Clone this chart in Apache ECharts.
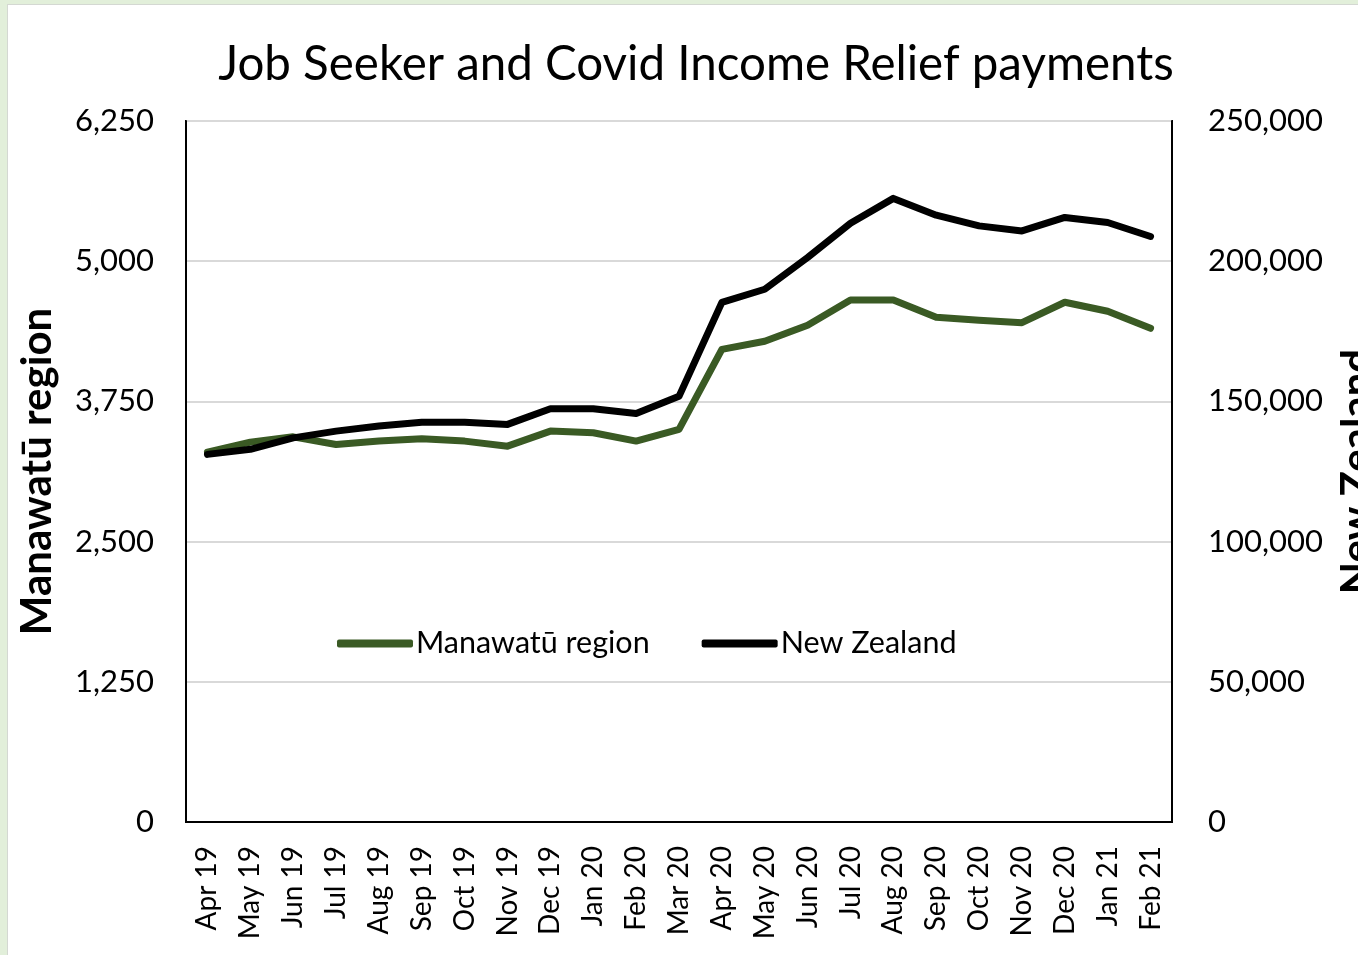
<!DOCTYPE html>
<html>
<head>
<meta charset="utf-8">
<script src="https://cdn.jsdelivr.net/npm/echarts@6/dist/echarts.min.js"></script>
<style>
  html, body { margin: 0; padding: 0; width: 1358px; height: 955px; overflow: hidden; background: #e2efda; }
  #frame { position: absolute; left: 7px; top: 4px; right: 0; bottom: 0; background: #ffffff; border-left: 1px solid #d4d8d2; border-top: 1px solid #d4d8d2; }
  #chart { position: absolute; left: 0; top: 0; width: 1358px; height: 955px; }
</style>
</head>
<body>
<div id="frame"></div>
<div id="chart"></div>
<script>
// Monthly counts of Job Seeker and Covid Income Relief payment recipients
const months = ['Apr 19','May 19','Jun 19','Jul 19','Aug 19','Sep 19','Oct 19','Nov 19','Dec 19','Jan 20','Feb 20','Mar 20',
                'Apr 20','May 20','Jun 20','Jul 20','Aug 20','Sep 20','Oct 20','Nov 20','Dec 20','Jan 21','Feb 21'];
const manawatu = [3298, 3387, 3434, 3366, 3396, 3417, 3396, 3351, 3485, 3471, 3396, 3500,
                  4214, 4286, 4429, 4655, 4655, 4500, 4473, 4452, 4634, 4554, 4402];
const newZealand = [131100, 132900, 137000, 139400, 141200, 142600, 142600, 141800, 147400, 147400, 145700, 151800,
                    185300, 190000, 201300, 213500, 222400, 216400, 212600, 210800, 215600, 213800, 208800];
const leftTicks = { min: 0, max: 6250, step: 1250 };
const rightTicks = { min: 0, max: 250000, step: 50000 };

const FONT = 'Lato, "Open Sans", sans-serif';
const fmt = v => v.toLocaleString('en-US');

const chart = echarts.init(document.getElementById('chart'), null, { renderer: 'canvas' });
chart.setOption({
  backgroundColor: 'transparent',
  animation: false,
  title: {
    text: 'Job Seeker and Covid Income Relief payments',
    left: 691, top: 36, textAlign: 'center',
    textStyle: { fontFamily: FONT, fontSize: 47.5, fontWeight: 'normal', color: '#000' }
  },
  legend: {
    left: 332, top: 623,
    icon: 'roundRect', itemWidth: 76, itemHeight: 8, itemGap: 52,
    textStyle: { fontFamily: FONT, fontSize: 30.5, color: '#000', padding: [0, 0, 0, -2] },
    data: ['Manawatū region', 'New Zealand']
  },
  grid: {
    left: 186, top: 121, width: 986, height: 701,
    outerBoundsMode: 'none', containLabel: false,
    show: true, borderColor: '#000', borderWidth: 2, backgroundColor: 'transparent'
  },
  xAxis: {
    type: 'category', data: months, boundaryGap: true,
    axisLine: { show: true, lineStyle: { color: '#000', width: 2 } },
    axisTick: { show: false },
    axisLabel: { rotate: 90, margin: 24, fontFamily: FONT, fontSize: 28, color: '#000', interval: 0 }
  },
  yAxis: [{
    type: 'value', min: leftTicks.min, max: leftTicks.max, interval: leftTicks.step,
    name: 'Manawatū region', nameLocation: 'middle', nameGap: 128,
    nameTextStyle: { fontFamily: FONT, fontSize: 42, fontWeight: 'bold', color: '#000' },
    axisLine: { show: true, lineStyle: { color: '#000', width: 2 } },
    axisTick: { show: false },
    splitLine: { show: true, lineStyle: { color: '#d9d9d9', width: 2 } },
    axisLabel: { margin: 32, fontFamily: FONT, fontSize: 31, color: '#000', formatter: fmt, padding: [6, 0, 0, 0] }
  }, {
    type: 'value', min: rightTicks.min, max: rightTicks.max, interval: rightTicks.step,
    name: 'New Zealand', nameLocation: 'middle', nameGap: 164, nameRotate: 90,
    nameTextStyle: { fontFamily: FONT, fontSize: 42, fontWeight: 'bold', color: '#000' },
    axisLine: { show: true, lineStyle: { color: '#000', width: 2 } },
    axisTick: { show: false },
    splitLine: { show: false },
    axisLabel: { margin: 36, fontFamily: FONT, fontSize: 31, color: '#000', formatter: fmt, padding: [6, 0, 0, 0] }
  }],
  series: [{
    name: 'Manawatū region', type: 'line', yAxisIndex: 0, data: manawatu,
    symbol: 'none', color: '#3a5a24',
    lineStyle: { width: 7, color: '#3a5a24', cap: 'round', join: 'round' }
  }, {
    name: 'New Zealand', type: 'line', yAxisIndex: 1, data: newZealand,
    symbol: 'none', color: '#000',
    lineStyle: { width: 7, color: '#000', cap: 'round', join: 'round' }
  }]
});
</script>
</body>
</html>
